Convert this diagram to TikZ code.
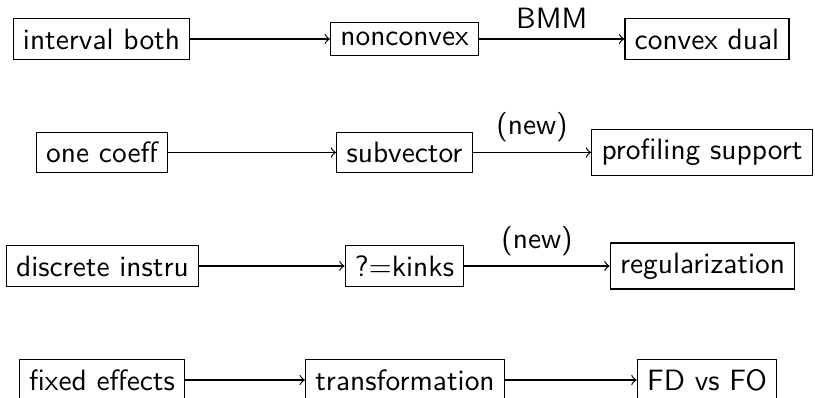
\documentclass[tikz,border=0pt]{standalone}
\usetikzlibrary{positioning}
\begin{document}
\begin{tikzpicture}[x=0.34pt,y=-0.34pt,
  font=\sffamily,
  box/.style={draw,line width=0.4pt},
  flow/.style={->,line width=0.4pt}]
\useasboundingbox (0,0) rectangle (815,398);
% row 1
\node[box] (ib) at (101.5,39) {interval both};
\node[box] (nc) at (404.5,39) {nonconvex};
\node[box] (cd) at (707,39) {convex dual};
% row 2
\node[box] (oc) at (102,152.5) {one coeff};
\node[box] (sv) at (404.5,152.5) {subvector};
\node[box] (ps) at (702,152.5) {profiling support};
% row 3
\node[box] (di) at (102.5,266) {discrete instru};
\node[box] (kk) at (404.5,266) {?=kinks};
\node[box] (rg) at (702.5,266) {regularization};
% row 4
\node[box] (fe) at (102,380) {fixed effects};
\node[box] (tf) at (405,380) {transformation};
\node[box] (fd) at (707,380) {FD vs FO};
% connectors
\draw[flow] (ib) -- (nc);
\draw[flow] (nc) -- node[above] {BMM} (cd);
\draw[flow] (oc) -- (sv);
\draw[flow] (sv) -- node[above] {(new)} (ps);
\draw[flow] (di) -- (kk);
\draw[flow] (kk) -- node[above] {(new)} (rg);
\draw[flow] (fe) -- (tf);
\draw[flow] (tf) -- (fd);
\end{tikzpicture}
\end{document}
